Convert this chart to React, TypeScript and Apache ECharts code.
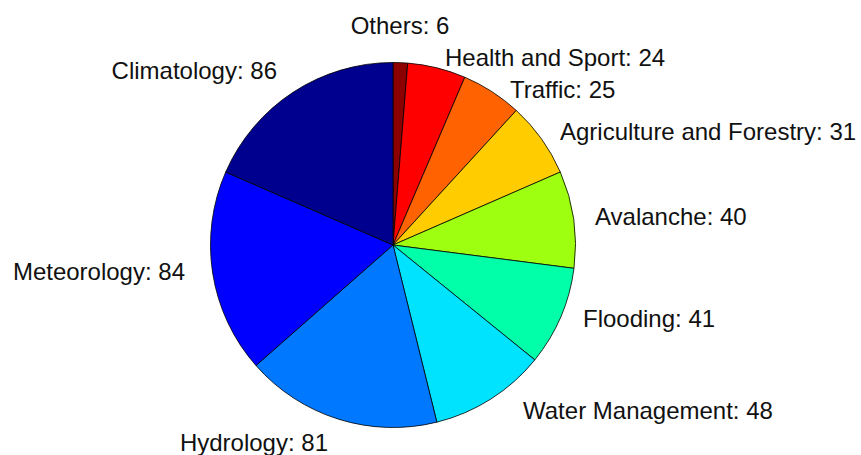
import React, { useEffect, useRef } from "react";
import * as echarts from "echarts";

const categories = [
  "Others",
  "Health and Sport",
  "Traffic",
  "Agriculture and Forestry",
  "Avalanche",
  "Flooding",
  "Water Management",
  "Hydrology",
  "Meteorology",
  "Climatology",
];
const values = [6, 24, 25, 31, 40, 41, 48, 81, 84, 86];
const colors = [
  "#8c0000",
  "#ff0000",
  "#ff6200",
  "#ffcc00",
  "#9fff10",
  "#00ffa8",
  "#00e3ff",
  "#0078ff",
  "#0000ff",
  "#00008f",
];

// label anchor layout (pixels): [x, y, align]
const labelAnchors: [number, number, string][] = [
  [400, 25, "center"],
  [445, 57, "left"],
  [510, 89, "left"],
  [560, 131, "left"],
  [595, 216, "left"],
  [583, 318, "left"],
  [523, 410, "left"],
  [328, 442, "right"],
  [185, 271, "right"],
  [277, 70, "right"],
];

export default function App() {
  const ref = useRef<HTMLDivElement>(null);
  useEffect(() => {
    if (!ref.current) return;
    const chart = echarts.init(ref.current, null, { renderer: "svg" });
    chart.setOption({
      animation: false,
      backgroundColor: "#ffffff",
      series: [
        {
          type: "pie",
          center: [393, 245],
          radius: [0, 182.5],
          startAngle: 90,
          clockwise: true,
          avoidLabelOverlap: false,
          silent: true,
          data: categories.map((name, i) => ({
            name,
            value: values[i],
            itemStyle: { color: colors[i] },
          })),
          itemStyle: { borderColor: "#000000", borderWidth: 0.8 },
          label: {
            show: true,
            position: "outside",
            formatter: "{b}: {c}",
            fontFamily: "Liberation Sans, Arial, sans-serif",
            fontSize: 24,
            color: "#111111",
          },
          labelLine: { show: false },
          labelLayout: (params: any) => {
            const a = labelAnchors[params.dataIndex];
            return { x: a[0], y: a[1], align: a[2], verticalAlign: "middle" };
          },
        },
      ],
    });
    return () => chart.dispose();
  }, []);
  return (
    <div
      ref={ref}
      style={{ position: "fixed", left: 0, top: 0, width: 861, height: 455 }}
    />
  );
}
